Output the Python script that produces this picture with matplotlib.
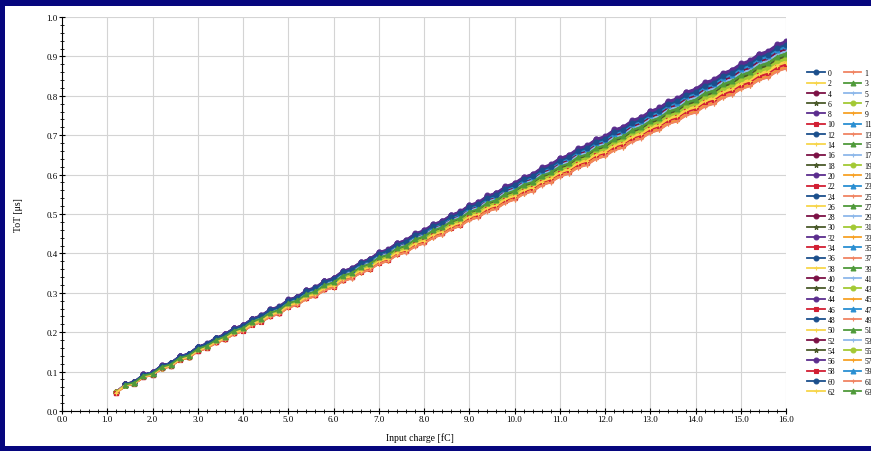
import numpy as np
import matplotlib
matplotlib.use("Agg")
import matplotlib.pyplot as plt
from matplotlib.ticker import MultipleLocator
from matplotlib.patches import Rectangle

plt.rcParams['font.family'] = ['Liberation Serif', 'DejaVu Serif']

# injected charge scan points [fC]
charge = np.round(np.arange(1.2, 16.01, 0.2), 1)

# typical channel ToT [us] read off the band centre
tot_base = [0.048, 0.067, 0.072, 0.090, 0.095, 0.112, 0.118, 0.135, 0.141, 0.158,
            0.166, 0.180, 0.189, 0.204, 0.211, 0.227, 0.235, 0.250, 0.257, 0.274,
            0.281, 0.297, 0.304, 0.320, 0.327, 0.344, 0.351, 0.366, 0.374, 0.390,
            0.397, 0.413, 0.420, 0.436, 0.444, 0.459, 0.467, 0.482, 0.490, 0.506,
            0.513, 0.529, 0.536, 0.552, 0.560, 0.575, 0.582, 0.598, 0.606, 0.621,
            0.629, 0.645, 0.652, 0.668, 0.675, 0.691, 0.698, 0.714, 0.722, 0.737,
            0.745, 0.761, 0.768, 0.784, 0.791, 0.807, 0.814, 0.830, 0.838, 0.853,
            0.861, 0.877, 0.884, 0.900, 0.908]

# per-channel gain relative to the typical channel
gain = [1.020, 0.962, 0.975, 1.000, 1.010, 1.006, 0.992, 0.985,
        1.028, 0.960, 0.968, 1.018, 1.024, 0.966, 0.978, 0.998,
        1.012, 1.004, 0.990, 0.983, 1.032, 0.958, 0.970, 1.016,
        1.022, 0.964, 0.973, 1.002, 1.008, 1.007, 0.994, 0.987,
        1.030, 0.962, 0.966, 1.020, 1.018, 0.961, 0.976, 0.996,
        1.014, 1.003, 0.988, 0.981, 1.034, 0.959, 0.969, 1.015,
        1.026, 0.963, 0.977, 1.001, 1.011, 1.005, 0.991, 0.986,
        1.029, 0.960, 0.971, 1.019, 1.023, 0.957, 0.974, 0.999]

# first scan point above threshold for each channel
first_point = [1, 0, 0, 1, 0, 0, 2, 0, 1, 0, 0, 1, 2, 0, 0, 1,
               0, 1, 2, 0, 1, 0, 0, 1, 2, 0, 0, 1, 0, 0, 1, 0,
               1, 0, 0, 2, 1, 0, 0, 1, 0, 1, 2, 0, 1, 0, 0, 1,
               2, 0, 0, 1, 0, 0, 1, 0, 1, 0, 0, 2, 1, 0, 0, 1]

channels = list(range(64))

palette = ['#1b4f8c', '#f08462', '#f7d54a', '#4f9a3a', '#7c1145', '#8db8ea',
           '#4a5a2a', '#a3c934', '#5b2d8e', '#f7a125', '#d21f33', '#2a8fd2']
markers = ['o', '+', '+', '^', 'o', '+', '*', 'o', 'o', '+', 's', '^']

fig = plt.figure(figsize=(8.71, 4.52), dpi=100)
fig.patch.set_facecolor('#06067e')
fig.add_artist(Rectangle((5 / 871, 5 / 452), 866 / 871, 440 / 452,
                         transform=fig.transFigure, facecolor='white',
                         edgecolor='none', zorder=0))

ax = fig.add_axes([62 / 871, 1 - 412 / 452, 724 / 871, 394 / 452])
ax.set_facecolor('white')

handles = []
for ch in channels:
    s = first_point[ch]
    y = np.array(tot_base[s:]) * gain[ch]
    h, = ax.plot(charge[s:], y, color=palette[ch % 12], marker=markers[ch % 12],
                 markersize=3.5, markeredgewidth=0.8, linewidth=1.3, label=str(ch))
    handles.append(h)

ax.set_xlim(0, 16)
ax.set_ylim(0, 1.0)
ax.xaxis.set_major_locator(MultipleLocator(1.0))
ax.xaxis.set_minor_locator(MultipleLocator(0.2))
ax.yaxis.set_major_locator(MultipleLocator(0.1))
ax.yaxis.set_minor_locator(MultipleLocator(0.02))
ax.xaxis.set_major_formatter(lambda v, p: '%.1f' % v)
ax.yaxis.set_major_formatter(lambda v, p: '%.1f' % v)
ax.grid(True, which='major', color='#d4d4d4', linewidth=0.8)
ax.set_axisbelow(True)
for side in ['top', 'right']:
    ax.spines[side].set_visible(False)
ax.spines['left'].set_linewidth(0.8)
ax.spines['bottom'].set_linewidth(0.8)
ax.tick_params(which='major', direction='inout', length=4, width=0.8, labelsize=6.5, pad=1)
ax.tick_params(which='minor', direction='inout', length=2.5, width=0.6)

fig.text(420 / 871, 1 - 438 / 452, 'Input charge [fC]', ha='center', va='center', fontsize=7)
fig.text(18 / 871, 1 - 215 / 452, 'ToT [\u03bcs]', ha='center', va='center',
         rotation=90, fontsize=7)

order = channels[0::2] + channels[1::2]
ax.legend([handles[i] for i in order], [str(i) for i in order], ncol=2,
          loc='upper left', bbox_to_anchor=(807 / 871, 1 - 70 / 452),
          bbox_transform=fig.transFigure, frameon=False, fontsize=5.5,
          borderaxespad=0, borderpad=0, handlelength=2.3, handletextpad=0.4,
          columnspacing=1.1, labelspacing=0.3, markerscale=1.0)

fig.savefig('out.png', dpi=100, facecolor=fig.get_facecolor())
